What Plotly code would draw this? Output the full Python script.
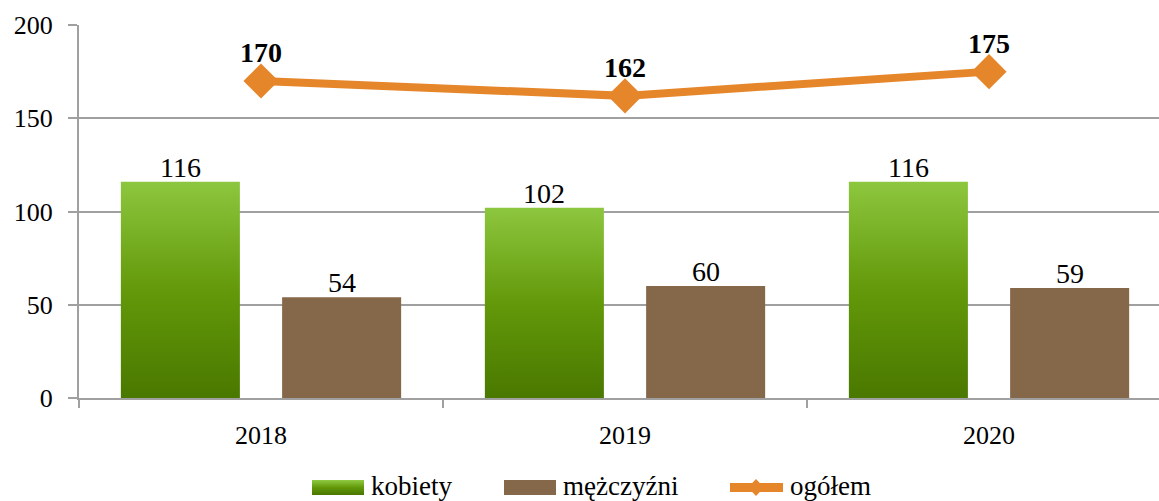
import plotly.graph_objects as go

# --- data -------------------------------------------------------------
years = ["2018", "2019", "2020"]
kobiety = [116, 102, 116]
mezczyzni = [54, 60, 59]
ogolem = [170, 162, 175]

# --- styling ----------------------------------------------------------
FONT = '"Liberation Serif", "Times New Roman", serif'
GREEN_TOP = "#8DC73F"
GREEN_MID = "#63990A"
GREEN_BOT = "#4A7800"
BROWN = "#85684A"
ORANGE = "#E6862A"
GRID = "#A0A0A0"

W, H = 1159, 501
ML, MR, MT, MB = 79, 0, 25, 103

BAR_W = 0.327          # bar width in category units
K_OFF = -0.385         # left edge of the "kobiety" bar relative to the category centre
M_OFF = 0.058          # left edge of the "mężczyźni" bar

idx = list(range(len(years)))

fig = go.Figure()

# "kobiety" bars: filled rectangles so each bar can carry its own vertical gradient
for i, v in zip(idx, kobiety):
    x0, x1 = i + K_OFF, i + K_OFF + BAR_W
    fig.add_trace(go.Scatter(
        x=[x0, x1, x1, x0, x0],
        y=[0, 0, v, v, 0],
        mode="lines",
        line=dict(width=0, color=GREEN_MID),
        fill="toself",
        fillgradient=dict(
            type="vertical",
            colorscale=[[0, GREEN_BOT], [0.5, GREEN_MID], [1, GREEN_TOP]],
        ),
        name="kobiety",
        showlegend=False,
        hoverinfo="skip",
    ))

# "mężczyźni" bars
fig.add_trace(go.Bar(
    x=idx,
    y=mezczyzni,
    width=BAR_W,
    offset=M_OFF,
    marker=dict(color=BROWN, line=dict(width=0)),
    name="mężczyźni",
    showlegend=False,
))

# total line
fig.add_trace(go.Scatter(
    x=idx,
    y=ogolem,
    mode="lines+markers",
    line=dict(color=ORANGE, width=8),
    marker=dict(symbol="diamond", size=27, color=ORANGE),
    name="ogółem",
    showlegend=False,
))

# value labels
annotations = []
for i, v in zip(idx, kobiety):
    annotations.append(dict(x=i + K_OFF + BAR_W / 2, y=v, text=str(v), showarrow=False,
                            yanchor="bottom", yshift=-3,
                            font=dict(family=FONT, size=28, color="black")))
for i, v in zip(idx, mezczyzni):
    annotations.append(dict(x=i + M_OFF + BAR_W / 2, y=v, text=str(v), showarrow=False,
                            yanchor="bottom", yshift=-3,
                            font=dict(family=FONT, size=28, color="black")))
for i, v in zip(idx, ogolem):
    annotations.append(dict(x=i, y=v, text=f"<b>{v}</b>", showarrow=False,
                            yanchor="bottom", yshift=11,
                            font=dict(family=FONT, size=28, color="black")))

# --- legend drawn below the plot --------------------------------------
PW, PH = W - ML - MR, H - MT - MB


def px_x(p):
    return (p - ML) / PW


def px_y(p):
    return (H - MB - p) / PH


shapes = []
# gradient swatch for "kobiety"
sw_top, sw_bot = 480, 495
steps = 15


def mix(c1, c2, t):
    a = [int(c1[k:k + 2], 16) for k in (1, 3, 5)]
    b = [int(c2[k:k + 2], 16) for k in (1, 3, 5)]
    return "#" + "".join(f"{round(a[j] + (b[j] - a[j]) * t):02x}" for j in range(3))


for s in range(steps):
    t = s / (steps - 1)
    col = mix(GREEN_TOP, GREEN_MID, t * 2) if t <= 0.5 else mix(GREEN_MID, GREEN_BOT, (t - 0.5) * 2)
    y0 = sw_top + (sw_bot - sw_top) * s / steps
    y1 = sw_top + (sw_bot - sw_top) * (s + 1) / steps
    shapes.append(dict(type="rect", xref="paper", yref="paper",
                       x0=px_x(312), x1=px_x(364), y0=px_y(y1), y1=px_y(y0),
                       fillcolor=col, line=dict(width=0), layer="above"))
# "mężczyźni" swatch
shapes.append(dict(type="rect", xref="paper", yref="paper",
                   x0=px_x(504), x1=px_x(556), y0=px_y(sw_bot), y1=px_y(sw_top),
                   fillcolor=BROWN, line=dict(width=0), layer="above"))
# "ogółem" line swatch with diamond
mid = (sw_top + sw_bot) / 2
shapes.append(dict(type="line", xref="paper", yref="paper",
                   x0=px_x(730), x1=px_x(783), y0=px_y(mid), y1=px_y(mid),
                   line=dict(color=ORANGE, width=9), layer="above"))
shapes.append(dict(type="path", xref="paper", yref="paper", layer="above",
                   path=(f"M {px_x(748)} {px_y(mid)} L {px_x(756)} {px_y(mid - 8.5)} "
                         f"L {px_x(764)} {px_y(mid)} L {px_x(756)} {px_y(mid + 8.5)} Z"),
                   fillcolor=ORANGE, line=dict(width=0)))

for label, left in (("kobiety", 369), ("mężczyźni", 561), ("ogółem", 788)):
    annotations.append(dict(x=px_x(left), y=px_y(486), xref="paper", yref="paper",
                            text=label, showarrow=False, xanchor="left", yanchor="middle",
                            font=dict(family=FONT, size=27, color="black")))

fig.update_layout(
    width=W,
    height=H,
    margin=dict(l=ML, r=MR, t=MT, b=MB, autoexpand=False),
    paper_bgcolor="white",
    plot_bgcolor="white",
    barmode="overlay",
    font=dict(family=FONT, size=26, color="black"),
    annotations=annotations,
    shapes=shapes,
    showlegend=False,
    xaxis=dict(
        range=[-0.5, 2.467],
        tickmode="array",
        tickvals=idx,
        ticktext=years,
        ticks="",
        ticklabelstandoff=13,
        tickfont=dict(family=FONT, size=26),
        showgrid=False,
        zeroline=False,
        showline=True,
        linecolor=GRID,
        linewidth=2,
        minor=dict(tickmode="array", tickvals=[-0.5, 0.5, 1.5, 2.5], ticks="outside",
                   ticklen=8, tickwidth=2, tickcolor=GRID, showgrid=False),
        fixedrange=True,
    ),
    yaxis=dict(
        range=[0, 200],
        tickmode="array",
        tickvals=[0, 50, 100, 150, 200],
        ticks="outside",
        ticklen=9,
        tickwidth=2,
        tickcolor=GRID,
        ticklabelstandoff=10,
        tickfont=dict(family=FONT, size=26),
        showgrid=True,
        gridcolor=GRID,
        gridwidth=2,
        zeroline=False,
        showline=True,
        linecolor=GRID,
        linewidth=2,
        fixedrange=True,
    ),
)

fig.write_html("out.html")
